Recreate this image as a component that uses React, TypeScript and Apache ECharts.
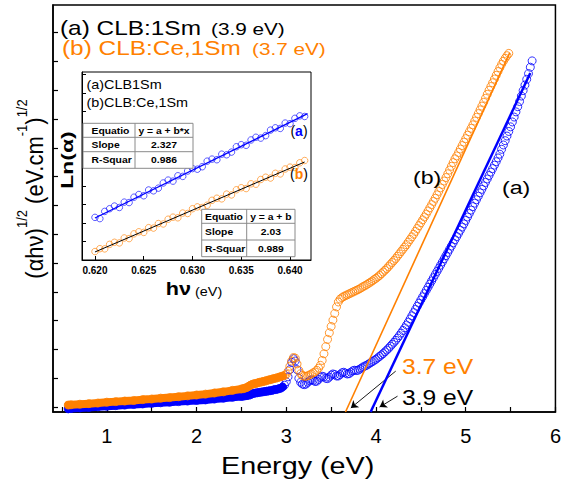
import React, { useEffect, useRef } from 'react';
import * as echarts from 'echarts';

const ORANGE = '#ff8000';
const BLUE = '#0000ff';
const FONT = 'Arial, Liberation Sans, sans-serif';

// ---- main panel: (a) CLB:1Sm (blue) ----
const energyA = [
  0.57, 0.6, 0.7, 0.8, 0.9, 1.0, 1.1, 1.2, 1.3, 1.4, 1.5, 1.6, 1.7, 1.8, 1.9, 2.0, 2.1, 2.2, 2.3, 2.4,
  2.5, 2.52, 2.54, 2.56, 2.58, 2.6, 2.62, 2.64, 2.66, 2.68, 2.7, 2.72, 2.74, 2.76, 2.78, 2.8, 2.82, 2.84, 2.86, 2.88,
  2.9, 2.92, 2.94, 2.96, 2.98, 3.0, 3.02, 3.04, 3.06, 3.08, 3.1, 3.12, 3.14, 3.16, 3.18, 3.2, 3.22, 3.24, 3.26, 3.28,
  3.3, 3.32, 3.34, 3.36, 3.38, 3.4, 3.42, 3.44, 3.46, 3.48, 3.5, 3.52, 3.54, 3.56, 3.58, 3.6, 3.62, 3.64, 3.66, 3.68,
  3.7, 3.72, 3.74, 3.76, 3.78, 3.8, 3.82, 3.84, 3.86, 3.88, 3.9, 3.92, 3.94, 3.96, 3.98, 4.0, 4.02, 4.04, 4.06, 4.08,
  4.1, 4.12, 4.14, 4.16, 4.18, 4.2, 4.22, 4.24, 4.26, 4.28, 4.3, 4.32, 4.34, 4.36, 4.38, 4.4, 4.42, 4.44, 4.46, 4.48,
  4.5, 4.52, 4.54, 4.56, 4.58, 4.6, 4.62, 4.64, 4.66, 4.68, 4.7, 4.72, 4.74, 4.76, 4.78, 4.8, 4.82, 4.84, 4.86, 4.88,
  4.9, 4.92, 4.94, 4.96, 4.98, 5.0, 5.02, 5.04, 5.06, 5.08, 5.1, 5.12, 5.14, 5.16, 5.18, 5.2, 5.22, 5.24, 5.26, 5.28,
  5.3, 5.32, 5.34, 5.36, 5.38, 5.4, 5.42, 5.44, 5.46, 5.48, 5.5, 5.52, 5.54, 5.56, 5.58, 5.6, 5.62, 5.64, 5.66, 5.68,
  5.7, 5.72, 5.74,
];
const absA = [
  -0.06, -0.05, -0.03, -0.01, 0.01, 0.03, 0.05, 0.07, 0.09, 0.11, 0.13, 0.15, 0.17, 0.19, 0.21, 0.23, 0.25, 0.28, 0.31, 0.34,
  0.37, 0.38, 0.39, 0.4, 0.41, 0.43, 0.46, 0.48, 0.49, 0.5, 0.51, 0.52, 0.53, 0.54, 0.55, 0.56, 0.57, 0.58, 0.6, 0.61,
  0.62, 0.64, 0.66, 0.7, 0.76, 0.88, 1.05, 1.3, 1.55, 1.68, 1.6, 1.3, 1.0, 0.86, 0.8, 0.78, 0.8, 0.86, 0.92, 0.95,
  0.93, 0.89, 0.9, 0.96, 1.03, 1.07, 1.05, 1.0, 0.99, 1.04, 1.11, 1.15, 1.13, 1.08, 1.08, 1.13, 1.19, 1.21, 1.18, 1.15,
  1.16, 1.21, 1.26, 1.28, 1.27, 1.28, 1.32, 1.36, 1.4, 1.43, 1.46, 1.5, 1.54, 1.58, 1.62, 1.66, 1.71, 1.76, 1.81, 1.86,
  1.92, 1.98, 2.04, 2.11, 2.18, 2.25, 2.32, 2.4, 2.48, 2.57, 2.66, 2.75, 2.85, 2.95, 3.06, 3.17, 3.28, 3.39, 3.5, 3.61,
  3.72, 3.83, 3.94, 4.05, 4.16, 4.27, 4.38, 4.49, 4.6, 4.71, 4.82, 4.93, 5.04, 5.15, 5.26, 5.37, 5.48, 5.59, 5.7, 5.81,
  5.92, 6.03, 6.14, 6.25, 6.36, 6.48, 6.6, 6.72, 6.84, 6.96, 7.08, 7.2, 7.32, 7.44, 7.56, 7.68, 7.8, 7.92, 8.04, 8.16,
  8.28, 8.4, 8.52, 8.65, 8.78, 8.95, 9.1, 9.25, 9.41, 9.57, 9.73, 9.9, 10.07, 10.25, 10.43, 10.61, 10.8, 10.99, 11.18, 11.38,
  11.58, 11.8, 12.02,
];

// ---- main panel: (b) CLB:Ce,1Sm (orange) ----
const energyB = [
  0.57, 0.6, 0.7, 0.8, 0.9, 1.0, 1.1, 1.2, 1.3, 1.4, 1.5, 1.6, 1.7, 1.8, 1.9, 2.0, 2.1, 2.2, 2.3, 2.4,
  2.5, 2.52, 2.54, 2.56, 2.58, 2.6, 2.62, 2.64, 2.66, 2.68, 2.7, 2.72, 2.74, 2.76, 2.78, 2.8, 2.82, 2.84, 2.86, 2.88,
  2.9, 2.92, 2.94, 2.96, 2.98, 3.0, 3.02, 3.04, 3.06, 3.08, 3.1, 3.12, 3.14, 3.16, 3.18, 3.2, 3.22, 3.24, 3.26, 3.28,
  3.3, 3.32, 3.34, 3.36, 3.38, 3.4, 3.42, 3.44, 3.46, 3.48, 3.5, 3.52, 3.54, 3.56, 3.58, 3.6, 3.62, 3.64, 3.66, 3.68,
  3.7, 3.72, 3.74, 3.76, 3.78, 3.8, 3.82, 3.84, 3.86, 3.88, 3.9, 3.92, 3.94, 3.96, 3.98, 4.0, 4.02, 4.04, 4.06, 4.08,
  4.1, 4.12, 4.14, 4.16, 4.18, 4.2, 4.22, 4.24, 4.26, 4.28, 4.3, 4.32, 4.34, 4.36, 4.38, 4.4, 4.42, 4.44, 4.46, 4.48,
  4.5, 4.52, 4.54, 4.56, 4.58, 4.6, 4.62, 4.64, 4.66, 4.68, 4.7, 4.72, 4.74, 4.76, 4.78, 4.8, 4.82, 4.84, 4.86, 4.88,
  4.9, 4.92, 4.94, 4.96, 4.98, 5.0, 5.02, 5.04, 5.06, 5.08, 5.1, 5.12, 5.14, 5.16, 5.18, 5.2, 5.22, 5.24, 5.26, 5.28,
  5.3, 5.32, 5.34, 5.36, 5.38, 5.4, 5.42, 5.44, 5.46, 5.48,
];
const absB = [
  0.07, 0.08, 0.1, 0.12, 0.14, 0.17, 0.19, 0.21, 0.23, 0.26, 0.28, 0.31, 0.33, 0.36, 0.39, 0.42, 0.45, 0.49, 0.53, 0.58,
  0.63, 0.64, 0.66, 0.68, 0.72, 0.76, 0.79, 0.81, 0.82, 0.84, 0.86, 0.87, 0.89, 0.9, 0.92, 0.94, 0.95, 0.97, 0.99, 1.0,
  1.02, 1.04, 1.06, 1.08, 1.1, 1.14, 1.25, 1.42, 1.6, 1.72, 1.7, 1.5, 1.28, 1.16, 1.1, 1.07, 1.07, 1.09, 1.12, 1.15,
  1.19, 1.22, 1.28, 1.35, 1.45, 1.62, 1.85, 2.1, 2.35, 2.58, 2.8, 3.02, 3.25, 3.48, 3.65, 3.75, 3.8, 3.84, 3.87, 3.9,
  3.93, 3.96, 3.99, 4.02, 4.05, 4.08, 4.11, 4.15, 4.19, 4.22, 4.26, 4.3, 4.34, 4.38, 4.43, 4.47, 4.52, 4.57, 4.63, 4.69,
  4.75, 4.81, 4.88, 4.95, 5.02, 5.09, 5.16, 5.24, 5.32, 5.4, 5.48, 5.56, 5.64, 5.73, 5.82, 5.91, 6.0, 6.1, 6.2, 6.3,
  6.4, 6.5, 6.6, 6.7, 6.81, 6.92, 7.03, 7.14, 7.25, 7.37, 7.49, 7.61, 7.73, 7.85, 7.97, 8.1, 8.23, 8.36, 8.49, 8.62,
  8.72, 8.84, 8.96, 9.08, 9.2, 9.32, 9.44, 9.56, 9.68, 9.8, 9.93, 10.06, 10.19, 10.32, 10.45, 10.58, 10.72, 10.86, 11.0, 11.13,
  11.26, 11.39, 11.52, 11.65, 11.78, 11.9, 12.01, 12.11, 12.2, 12.28,
];

// linear extrapolation lines (Tauc fits)
const fitLineA = [[3.94, -0.17], [5.72, 11.6]];
const fitLineB = [[3.66, -0.17], [5.49, 12.3]];
const arrow37 = [[4.22, 1.25], [3.72, -0.03]];
const arrow39 = [[4.24, 0.38], [4.04, 0.0]];

const mainXTicks = [0.5, 1, 1.5, 2, 2.5, 3, 3.5, 4, 4.5, 5, 5.5, 6];
const mainXLabels = [1, 2, 3, 4, 5, 6];
const mainYTicks = [0, 1, 2, 3, 4, 5, 6, 7, 8, 9, 10, 11, 12, 13];

// ---- inset: Ln(alpha) vs h nu ----
const insetEnergy = [
  0.62, 0.6205, 0.621, 0.6215, 0.622, 0.6225, 0.623, 0.6235, 0.624, 0.6245, 0.625, 0.6255, 0.626, 0.6265, 0.627,
  0.6275, 0.628, 0.6285, 0.629, 0.6295, 0.63, 0.6305, 0.631, 0.6315, 0.632, 0.6325, 0.633, 0.6335, 0.634, 0.6345,
  0.635, 0.6355, 0.636, 0.6365, 0.637, 0.6375, 0.638, 0.6385, 0.639, 0.6395, 0.64, 0.6405, 0.641, 0.6415,
];
const insetLnA = [
  0.0207, 0.0201, 0.0236, 0.0249, 0.0262, 0.0255, 0.0281, 0.0279, 0.0305, 0.0318, 0.0312, 0.034, 0.0336, 0.0349, 0.0374,
  0.0388, 0.0383, 0.0409, 0.0406, 0.0432, 0.0444, 0.0441, 0.0453, 0.048, 0.049, 0.0487, 0.0514, 0.0511, 0.0524, 0.055,
  0.056, 0.0557, 0.0583, 0.0596, 0.0592, 0.0604, 0.0631, 0.0642, 0.0639, 0.0665, 0.0662, 0.0688, 0.07, 0.0697,
];
const insetLnB = [
  0.0041, 0.0055, 0.0054, 0.0076, 0.0086, 0.0083, 0.0107, 0.0104, 0.0127, 0.0137, 0.0134, 0.0157, 0.0155, 0.0177, 0.0175,
  0.0198, 0.0208, 0.0205, 0.0228, 0.0226, 0.0249, 0.0258, 0.0255, 0.0266, 0.029, 0.03, 0.0297, 0.032, 0.0316, 0.0341,
  0.0351, 0.0347, 0.037, 0.0368, 0.0391, 0.0402, 0.0398, 0.0421, 0.0418, 0.0442, 0.0451, 0.0449, 0.0472, 0.0483,
];
const insetFitA = [[0.62, 0.0204], [0.6418, 0.0711]];
const insetFitB = [[0.62, 0.0039], [0.6415, 0.0476]];
const insetXTicks = [0.62, 0.625, 0.63, 0.635, 0.64];
const insetYTicks = [0.009, 0.018, 0.027, 0.036, 0.045, 0.054, 0.063, 0.072, 0.081, 0.09];

const tableA = [['Equatio', 'y = a + b*x'], ['Slope', '2.327'], ['R-Squar', '0.986']];
const tableB = [['Equatio', 'y = a + b'], ['Slope', '2.03'], ['R-Squar', '0.989']];

function pairs(xs: number[], ys: number[]) {
  return xs.map((x, i) => [x, ys[i]]);
}

function makeTable(x0: number, x1: number, xc: number, ys: number[], rows: string[][], textX: number) {
  const els: any[] = [];
  els.push({
    type: 'rect', z: 100,
    shape: { x: x0, y: ys[0], width: x1 - x0, height: ys[3] - ys[0] },
    style: { fill: '#fff', stroke: '#8a8a8a', lineWidth: 1 },
  });
  for (let i = 1; i < 3; i++) {
    els.push({ type: 'line', z: 101, shape: { x1: x0, y1: ys[i], x2: x1, y2: ys[i] }, style: { stroke: '#8a8a8a', lineWidth: 1 } });
  }
  els.push({ type: 'line', z: 101, shape: { x1: xc, y1: ys[0], x2: xc, y2: ys[3] }, style: { stroke: '#8a8a8a', lineWidth: 1 } });
  rows.forEach((r, i) => {
    const yMid = (ys[i] + ys[i + 1]) / 2;
    els.push({
      type: 'text', z: 102, x: textX, y: yMid, scaleX: 1.15,
      style: { text: r[0], fill: '#000', fontFamily: FONT, fontSize: 9, fontWeight: 'bold', align: 'left', verticalAlign: 'middle' },
    });
    els.push({
      type: 'text', z: 102, x: (xc + x1) / 2, y: yMid, scaleX: 1.15,
      style: { text: r[1], fill: '#000', fontFamily: FONT, fontSize: 9, fontWeight: 'bold', align: 'center', verticalAlign: 'middle' },
    });
  });
  return els;
}

function txt(x: number, y: number, text: string, size: number, fill: string, extra: any = {}) {
  return {
    type: 'text', z: 100, x, y, scaleX: extra.scaleX ?? 1.22, rotation: extra.rotation ?? 0, scaleY: extra.scaleY ?? 1,
    style: {
      text, fill, fontFamily: FONT, fontSize: size, fontWeight: extra.fontWeight ?? 'normal',
      align: extra.align ?? 'left', verticalAlign: 'middle',
    },
  };
}

export default function App() {
  const ref = useRef<HTMLDivElement>(null);
  useEffect(() => {
    const chart = echarts.init(ref.current!, null, { renderer: 'svg' });
    const dataA = pairs(energyA, absA);
    const dataB = pairs(energyB, absB);
    const lowA = dataA.filter((p) => p[0] <= 2.96);
    const lowB = dataB.filter((p) => p[0] <= 2.96);

    const option: any = {
      animation: false,
      backgroundColor: '#fff',
      textStyle: { fontFamily: FONT },
      grid: [
        { left: 53, top: 5, width: 504, height: 407, show: true, borderColor: '#000', borderWidth: 1.5, backgroundColor: 'transparent' },
        { left: 82, top: 72, width: 229, height: 188, show: true, borderColor: '#000', borderWidth: 1, backgroundColor: '#fff', z: 5 },
      ],
      xAxis: [
        {
          type: 'value', gridIndex: 0, min: 0.4, max: 6,
          axisLine: { show: true, onZero: false, lineStyle: { color: '#000', width: 1.5 } },
          axisTick: { show: true, inside: true, length: 5, customValues: mainXTicks, lineStyle: { color: '#000', width: 1.2 } },
          axisLabel: { show: true, customValues: mainXLabels, fontSize: 20, color: '#000', margin: 14, fontFamily: FONT },
          splitLine: { show: false },
        },
        {
          type: 'value', gridIndex: 1, min: 0.61867, max: 0.64215, z: 6,
          axisLine: { show: true, onZero: false, lineStyle: { color: '#000', width: 1 } },
          axisTick: { show: true, inside: true, length: 4, customValues: insetXTicks, lineStyle: { color: '#000' } },
          axisLabel: {
            show: true, customValues: insetXTicks, fontSize: 10, fontWeight: 'bold', color: '#000', margin: 5,
            fontFamily: FONT, formatter: (v: number) => v.toFixed(3),
          },
          splitLine: { show: false },
        },
      ],
      yAxis: [
        {
          type: 'value', gridIndex: 0, min: -0.17, max: 13.96,
          axisLine: { show: true, onZero: false, lineStyle: { color: '#000', width: 1.5 } },
          axisTick: { show: true, inside: true, length: 5, customValues: mainYTicks, lineStyle: { color: '#000', width: 1.2 } },
          axisLabel: { show: false },
          splitLine: { show: false },
        },
        {
          type: 'value', gridIndex: 1, min: 0, max: 0.0913, z: 6,
          axisLine: { show: true, onZero: false, lineStyle: { color: '#000', width: 1 } },
          axisTick: { show: true, inside: true, length: 4, customValues: insetYTicks, lineStyle: { color: '#000' } },
          axisLabel: { show: false },
          splitLine: { show: false },
        },
      ],
      series: [
        {
          type: 'line', xAxisIndex: 0, yAxisIndex: 0, data: lowA, symbol: 'none', z: 2,
          lineStyle: { color: BLUE, width: 8, cap: 'round', join: 'round' },
        },
        {
          type: 'scatter', xAxisIndex: 0, yAxisIndex: 0, data: dataA, symbol: 'circle', symbolSize: 8, z: 3,
          itemStyle: { color: 'rgba(255,255,255,0)', borderColor: BLUE, borderWidth: 1 },
        },
        {
          type: 'line', xAxisIndex: 0, yAxisIndex: 0, data: lowB, symbol: 'none', z: 4,
          lineStyle: { color: ORANGE, width: 8, cap: 'round', join: 'round' },
        },
        {
          type: 'scatter', xAxisIndex: 0, yAxisIndex: 0, data: dataB, symbol: 'circle', symbolSize: 8, z: 5,
          itemStyle: { color: 'rgba(255,255,255,0)', borderColor: ORANGE, borderWidth: 1 },
        },
        {
          type: 'line', xAxisIndex: 0, yAxisIndex: 0, data: fitLineB, symbol: 'none', z: 6,
          lineStyle: { color: ORANGE, width: 1.6 },
        },
        {
          type: 'line', xAxisIndex: 0, yAxisIndex: 0, data: fitLineA, symbol: 'none', z: 6,
          lineStyle: { color: BLUE, width: 2.5 },
          markLine: {
            silent: true, symbol: ['none', 'arrow'], symbolSize: 7,
            label: { show: false },
            lineStyle: { color: '#000', width: 0.9, type: 'solid' },
            data: [
              [{ coord: arrow37[0] }, { coord: arrow37[1] }],
              [{ coord: arrow39[0] }, { coord: arrow39[1] }],
            ],
          },
        },
        {
          type: 'scatter', xAxisIndex: 1, yAxisIndex: 1, data: pairs(insetEnergy, insetLnA), symbol: 'circle', symbolSize: 6.5, z: 10,
          itemStyle: { color: 'rgba(255,255,255,0)', borderColor: BLUE, borderWidth: 0.8 },
        },
        {
          type: 'scatter', xAxisIndex: 1, yAxisIndex: 1, data: pairs(insetEnergy, insetLnB), symbol: 'circle', symbolSize: 6.5, z: 10,
          itemStyle: { color: 'rgba(255,255,255,0)', borderColor: ORANGE, borderWidth: 0.8 },
        },
        {
          type: 'line', xAxisIndex: 1, yAxisIndex: 1, data: insetFitA, symbol: 'none', z: 11,
          lineStyle: { color: BLUE, width: 1.3 },
        },
        {
          type: 'line', xAxisIndex: 1, yAxisIndex: 1, data: insetFitB, symbol: 'none', z: 11,
          lineStyle: { color: '#000', width: 1 },
        },
      ],
      graphic: [
        txt(60, 28, '(a) CLB:1Sm', 20, '#000'),
        txt(211, 29, '(3.9 eV)', 17, '#000'),
        txt(62, 48, '(b) CLB:Ce,1Sm', 20, ORANGE),
        txt(252, 49, '(3.7 eV)', 17, ORANGE),
        txt(413, 177, '(b)', 19, '#000'),
        txt(502, 187, '(a)', 19, '#000'),
        txt(402, 366.5, '3.7 eV', 22, ORANGE, { scaleX: 1.12 }),
        txt(402, 397.5, '3.9 eV', 22, '#000', { scaleX: 1.12 }),
        txt(221, 466, 'Energy (eV)', 23, '#000', { scaleX: 1.25 }),
        {
          type: 'text', z: 100, x: 31, y: 189, rotation: Math.PI / 2, scaleX: 1.0, scaleY: 1.1,
          style: {
            text: '{m|(αhν)}{s|1/2}{m| (eV.cm}{s|-1}{m|)}{s|1/2}',
            align: 'center', verticalAlign: 'middle', fill: '#000',
            rich: {
              m: { fontSize: 22, fontFamily: FONT, fill: '#000', lineHeight: 28, verticalAlign: 'bottom' },
              s: { fontSize: 13, fontFamily: FONT, fill: '#000', lineHeight: 16, verticalAlign: 'top' },
            },
          },
        },
        // inset texts
        txt(86.5, 85, '(a)CLB1Sm', 12, '#000', { scaleX: 1.2 }),
        txt(86.5, 103, '(b)CLB:Ce,1Sm', 12, '#000', { scaleX: 1.2 }),
        {
          type: 'text', z: 100, x: 299, y: 131,
          style: {
            text: '{k|(}{c|a}{k|)}', align: 'center', verticalAlign: 'middle',
            rich: {
              k: { fontSize: 14, fontFamily: FONT, fill: '#000' },
              c: { fontSize: 14, fontFamily: FONT, fill: BLUE, fontWeight: 'bold' },
            },
          },
        },
        {
          type: 'text', z: 100, x: 299, y: 174,
          style: {
            text: '{k|(}{c|b}{k|)}', align: 'center', verticalAlign: 'middle',
            rich: {
              k: { fontSize: 14, fontFamily: FONT, fill: '#000' },
              c: { fontSize: 14, fontFamily: FONT, fill: ORANGE, fontWeight: 'bold' },
            },
          },
        },
        {
          type: 'text', z: 100, x: 67, y: 160, rotation: Math.PI / 2, scaleX: 1.35,
          style: { text: 'Ln(α)', fill: '#000', fontFamily: FONT, fontSize: 17, fontWeight: 'bold', align: 'center', verticalAlign: 'middle' },
        },
        {
          type: 'text', z: 100, x: 194, y: 288, scaleX: 1.2,
          style: {
            text: '{b|hν}{s| (eV)}', align: 'center', verticalAlign: 'middle',
            rich: {
              b: { fontSize: 18, fontFamily: FONT, fontWeight: 'bold', fill: '#000', lineHeight: 20, verticalAlign: 'bottom' },
              s: { fontSize: 12, fontFamily: FONT, fill: '#000', lineHeight: 15, verticalAlign: 'bottom' },
            },
          },
        },
        ...makeTable(83, 193, 135, [123.3, 137.3, 151.7, 168.3], tableA, 91.5),
        ...makeTable(201.7, 295, 246.7, [209.3, 223.3, 240, 256.7], tableB, 205),
      ],
    };
    chart.setOption(option);
    return () => chart.dispose();
  }, []);
  return (
    <div
      ref={ref}
      style={{ position: 'fixed', left: 0, top: 0, width: 564, height: 479, background: '#fff' }}
    />
  );
}
